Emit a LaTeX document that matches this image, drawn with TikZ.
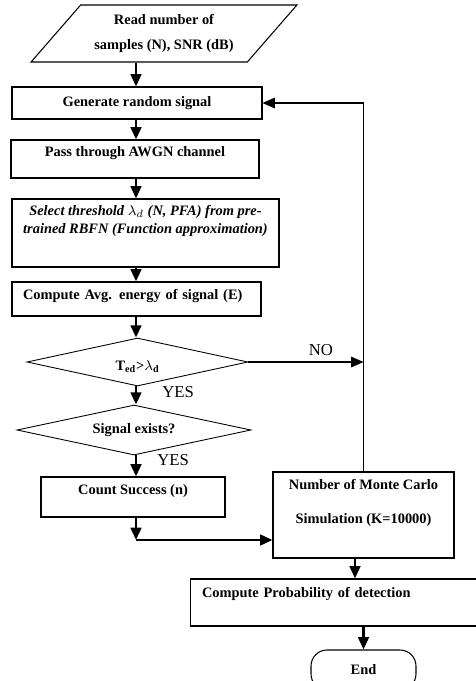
\documentclass[tikz,border=0pt]{standalone}
\usepackage{fontspec}
\setmainfont{Liberation Serif}
\usetikzlibrary{shapes.geometric, arrows.meta, positioning}
\tikzset{
  box/.style={rectangle, draw=black, line width=0.6pt, font=\bfseries\fontsize{8.2}{10}\selectfont, align=center},
  io/.style={trapezium, trapezium left angle=48, trapezium right angle=132, trapezium stretches=true, draw=black, line width=0.6pt, align=center},
  decision/.style={diamond, aspect=4.6, inner sep=0.5pt, draw=black, line width=0.5pt, font=\bfseries\fontsize{8.2}{10}\selectfont},
  term/.style={rectangle, rounded corners=0.32cm, draw=black, line width=0.6pt, font=\bfseries\fontsize{8.2}{10}\selectfont},
  flow/.style={line width=1.6pt, -{Triangle[length=7pt,width=6pt]}},
  back/.style={line width=0.7pt, -{Triangle[length=7pt,width=6pt]}},
  lbl/.style={font=\fontsize{9.5}{11}\selectfont}
}
\begin{document}
\begin{tikzpicture}[x=0.02cm, y=-0.02cm]
    \useasboundingbox (0,0) rectangle (476,681);
    \coordinate (spine) at (136,0);

    \node (input) [io, minimum width=5.32cm, minimum height=1.14cm, font=\bfseries\fontsize{8.2}{14.2}\selectfont] at (164,33.5) {Read number of\\samples (N), SNR (dB)};
    \node (gen) [box, minimum width=5cm, minimum height=0.64cm] at (137,103) {Generate random signal};
    \node (pass) [box, minimum width=4.96cm, minimum height=0.76cm, text depth=8.8pt] at (135,159) {Pass through AWGN channel};
    \node (select) [box, minimum width=5.34cm, minimum height=1.36cm, text depth=15.6pt, font=\bfseries\itshape\fontsize{8.2}{10.2}\selectfont] at (145.5,233) {Select threshold $\lambda_d$ (N, PFA) from pre-\\trained RBFN (Function approximation)};
    \node (avg) [box, minimum width=4.98cm, minimum height=0.68cm, text width=4.54cm, inner xsep=0.22cm, align=left, text depth=5.4pt] at (136.5,299) {Compute Avg. energy of signal (E)};
    \node (thresh) [decision, minimum width=4.42cm, minimum height=0.96cm, text height=10.6pt] at (137.5,362) {T\textsubscript{ed}>$\lambda$\textsubscript{d}};
    \node (exists) [decision, minimum width=4.68cm, minimum height=1cm] at (134,430) {Signal exists?\hspace{0.48cm}};
    \node (count) [box, minimum width=3.68cm, minimum height=0.8cm, text depth=8.8pt] at (133,497) {Count Success (n)};
    \node (monte) [box, minimum width=3.62cm, minimum height=1.72cm, text depth=15.6pt, font=\bfseries\fontsize{8.2}{19.3}\selectfont] at (363.5,515) {Number of Monte Carlo\\Simulation (K=10000)};
    \node (prob) [box, minimum width=6cm, minimum height=0.94cm, text width=5.52cm, inner xsep=0.24cm, align=left, text depth=11.6pt] at (340,602.5) {Compute Probability of detection};
    \node (end) [term, minimum width=2.1cm, minimum height=0.8cm] at (363.5,670) {End};
    \coordinate (corner) at (136,540);

    \draw [flow] (spine |- input.south) -- (spine |- gen.north);
    \draw [flow] (spine |- gen.south) -- (spine |- pass.north);
    \draw [flow] (spine |- pass.south) -- (spine |- select.north);
    \draw [flow] (spine |- select.south) -- (spine |- avg.north);
    \draw [flow] (spine |- avg.south) -- (spine |- thresh.north);
    \draw [flow] (spine |- thresh.south) -- node[lbl, right=0.38cm, pos=0.3] {YES} (spine |- exists.north);
    \draw [flow] (spine |- exists.south) -- node[lbl, right=0.28cm, pos=0.23] {YES} (spine |- count.north);
    \draw [flow] (spine |- count.south) -- (corner);
    \draw [flow] (corner) -- (corner -| monte.west);
    \draw [flow] ([xshift=-0.17cm]monte.south) -- ([xshift=-0.17cm]monte.south |- prob.north);
    \draw [flow] (end.north |- prob.south) -- (end.north);
    \draw [back] (monte.north) -- (monte.north |- gen.east) -- (gen.east);
    \draw [back] (thresh.east) -- node[lbl, above, pos=0.63] {NO} (thresh.east -| monte.north);
\end{tikzpicture}
\end{document}
